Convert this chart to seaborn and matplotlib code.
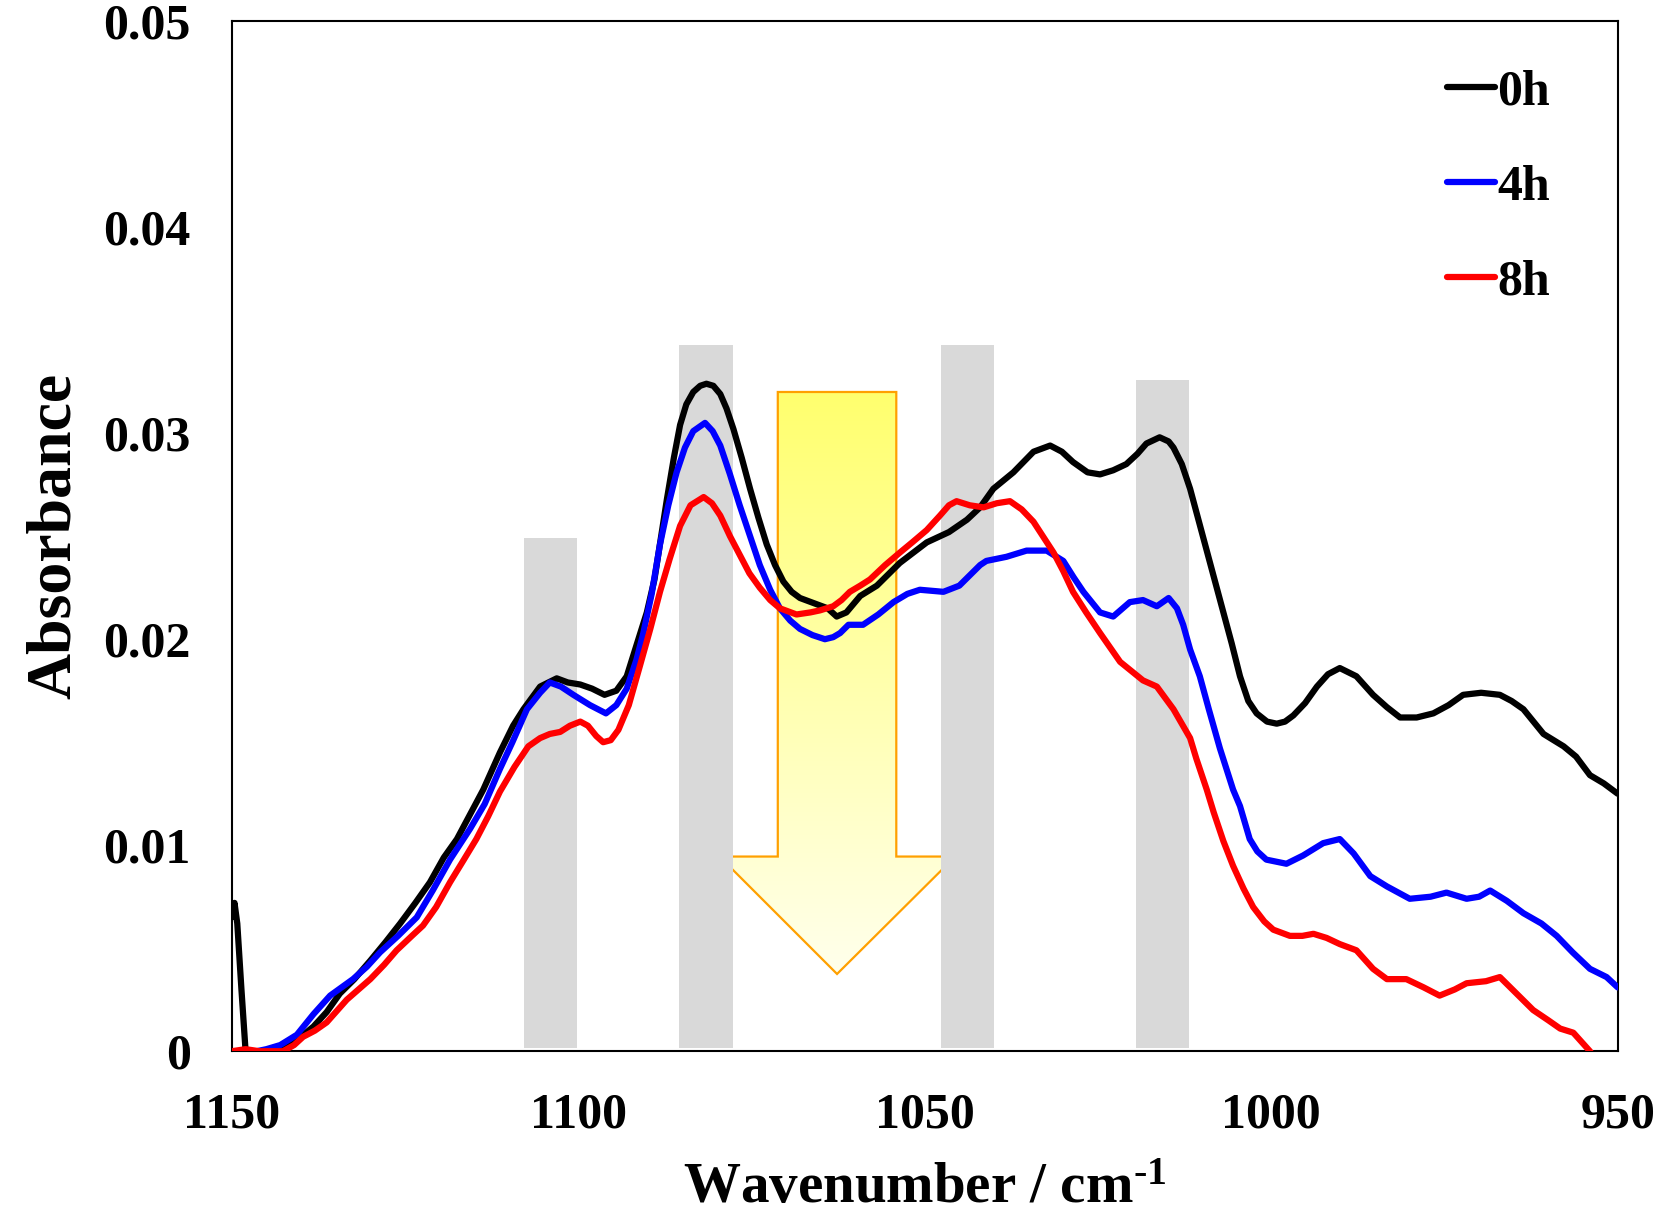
import numpy as np
import pandas as pd
import matplotlib
matplotlib.use('Agg')
import matplotlib.pyplot as plt
from matplotlib.patches import Polygon
import seaborn as sns

# spectra (wavenumber in cm-1, absorbance in units of 1e-3)
wn_0h = [1150.0, 1149.6, 1149.2, 1148.6, 1148.0, 1147.2, 1146.2, 1145.0, 1143.0, 1141.6,
         1140.0, 1138.2, 1136.3, 1134.4, 1132.3, 1130.0, 1127.8, 1125.7, 1123.5, 1121.4,
         1119.4, 1117.5, 1115.6, 1113.7, 1111.3, 1109.4, 1107.9, 1105.5, 1103.1, 1101.5,
         1099.7, 1098.0, 1096.2, 1094.5, 1093.0, 1091.6, 1090.1, 1089.0, 1087.2, 1086.2,
         1085.3, 1084.4, 1083.4, 1082.4, 1081.5, 1080.5, 1079.5, 1078.6, 1077.6, 1076.4,
         1075.2, 1074.0, 1072.8, 1071.6, 1070.4, 1069.2, 1068.0, 1065.6, 1064.0, 1062.7,
         1061.3, 1059.3, 1056.9, 1053.6, 1049.7, 1046.5, 1043.9, 1042.0, 1040.1, 1037.2,
         1034.3, 1031.9, 1030.2, 1028.6, 1026.5, 1024.7, 1022.8, 1020.9, 1019.3, 1018.0,
         1016.1, 1014.8, 1014.1, 1012.9, 1011.7, 1010.5, 1009.3, 1008.1, 1006.9, 1005.7,
         1004.5, 1003.3, 1002.1, 1000.6, 999.2, 998.0, 996.8, 995.1, 993.4, 991.8,
         990.1, 987.7, 985.3, 983.3, 981.4, 979.0, 976.6, 974.4, 972.3, 969.7,
         967.0, 965.3, 963.6, 960.7, 957.8, 956.0, 954.0, 952.0, 950.0]
abs_0h = [6.5, 7.2, 6.2, 3.0, 0.0, -0.6, -0.3, 0.0, 0.1, 0.3,
          0.7, 1.2, 1.9, 2.8, 3.5, 4.4, 5.3, 6.2, 7.2, 8.2,
          9.4, 10.3, 11.5, 12.7, 14.5, 15.8, 16.6, 17.7, 18.1, 17.9,
          17.8, 17.6, 17.3, 17.5, 18.2, 19.7, 21.3, 22.9, 26.8, 28.8,
          30.4, 31.4, 32.0, 32.3, 32.4, 32.3, 31.9, 31.2, 30.2, 28.8,
          27.3, 25.9, 24.6, 23.6, 22.8, 22.3, 22.0, 21.7, 21.5, 21.1,
          21.3, 22.1, 22.6, 23.7, 24.7, 25.2, 25.8, 26.4, 27.3, 28.1,
          29.1, 29.4, 29.1, 28.6, 28.1, 28.0, 28.2, 28.5, 29.0, 29.5,
          29.8, 29.6, 29.3, 28.5, 27.3, 25.8, 24.3, 22.8, 21.3, 19.8,
          18.2, 17.0, 16.4, 16.0, 15.9, 16.0, 16.3, 16.9, 17.7, 18.3,
          18.6, 18.2, 17.3, 16.7, 16.2, 16.2, 16.4, 16.8, 17.3, 17.4,
          17.3, 17.0, 16.6, 15.4, 14.8, 14.3, 13.4, 13.0, 12.5]

wn_4h = [1146.4, 1145.0, 1143.0, 1140.6, 1138.2, 1135.8, 1132.5, 1130.5, 1128.6, 1126.0,
         1123.3, 1121.0, 1118.5, 1115.6, 1113.5, 1111.3, 1109.5, 1107.4, 1105.5, 1104.1,
         1102.5, 1100.7, 1098.3, 1096.0, 1094.5, 1093.0, 1091.6, 1090.6, 1089.4, 1088.2,
         1087.0, 1085.8, 1084.6, 1083.4, 1081.7, 1080.6, 1079.5, 1078.1, 1076.7, 1075.2,
         1073.8, 1072.3, 1070.9, 1069.4, 1068.0, 1066.2, 1064.4, 1063.2, 1062.2, 1061.0,
         1058.9, 1056.7, 1054.5, 1052.5, 1050.7, 1047.3, 1045.0, 1042.0, 1041.1, 1038.2,
         1035.3, 1032.4, 1030.0, 1028.5, 1027.1, 1024.7, 1022.8, 1020.4, 1018.5, 1016.5,
         1014.8, 1013.6, 1012.7, 1011.7, 1010.3, 1009.0, 1007.4, 1005.5, 1004.5, 1003.1,
         1002.0, 1000.7, 997.8, 995.4, 992.5, 990.1, 988.1, 985.7, 983.3, 980.0,
         977.0, 974.7, 971.8, 970.0, 968.4, 966.0, 963.6, 961.0, 958.8, 956.5,
         954.0, 951.6, 950.0]
abs_4h = [0.0, 0.1, 0.3, 0.8, 1.8, 2.7, 3.5, 4.1, 4.8, 5.6,
          6.5, 7.8, 9.3, 10.8, 12.0, 13.7, 15.0, 16.6, 17.4, 17.9,
          17.7, 17.3, 16.8, 16.4, 16.8, 17.6, 19.0, 20.3, 22.2, 24.6,
          26.5, 28.1, 29.3, 30.1, 30.5, 30.1, 29.4, 28.0, 26.5, 25.0,
          23.6, 22.4, 21.5, 20.9, 20.5, 20.2, 20.0, 20.1, 20.3, 20.7,
          20.7, 21.2, 21.8, 22.2, 22.4, 22.3, 22.6, 23.6, 23.8, 24.0,
          24.3, 24.3, 23.8, 23.0, 22.3, 21.3, 21.1, 21.8, 21.9, 21.6,
          22.0, 21.5, 20.7, 19.5, 18.2, 16.6, 14.7, 12.7, 11.9, 10.3,
          9.7, 9.3, 9.1, 9.5, 10.1, 10.3, 9.6, 8.5, 8.0, 7.4,
          7.5, 7.7, 7.4, 7.5, 7.8, 7.3, 6.7, 6.2, 5.6, 4.8,
          4.0, 3.6, 3.1]

wn_8h = [1150.0, 1148.0, 1146.0, 1142.6, 1141.0, 1139.7, 1138.0, 1136.3, 1133.4, 1130.0,
         1128.0, 1126.2, 1124.0, 1122.4, 1120.5, 1118.5, 1116.5, 1114.7, 1113.0, 1111.3,
         1109.2, 1107.2, 1105.5, 1104.1, 1102.6, 1101.2, 1099.7, 1098.6, 1097.4, 1096.4,
         1095.3, 1094.2, 1092.7, 1091.1, 1089.6, 1088.2, 1086.8, 1085.3, 1083.8, 1081.9,
         1080.7, 1079.5, 1078.1, 1076.7, 1075.3, 1073.8, 1072.3, 1070.9, 1068.5, 1066.5,
         1065.1, 1063.2, 1062.0, 1060.8, 1059.3, 1057.9, 1055.7, 1053.6, 1051.8, 1049.7,
         1047.8, 1046.5, 1045.4, 1043.5, 1041.5, 1039.6, 1037.7, 1036.0, 1034.3, 1031.4,
         1030.0, 1028.6, 1026.7, 1024.7, 1021.8, 1018.5, 1016.5, 1014.1, 1011.7, 1010.8,
         1009.3, 1008.3, 1006.9, 1005.5, 1004.0, 1002.6, 1001.0, 999.7, 997.3, 995.5,
         993.9, 992.0, 990.1, 987.7, 985.3, 983.3, 980.5, 978.0, 975.7, 973.5,
         971.8, 969.0, 967.0, 964.6, 962.2, 960.0, 958.3, 956.4, 954.0, 952.0]
abs_8h = [0.0, 0.1, 0.0, 0.0, 0.3, 0.7, 1.0, 1.4, 2.5, 3.5,
          4.2, 4.9, 5.6, 6.1, 7.0, 8.2, 9.3, 10.3, 11.4, 12.6,
          13.8, 14.8, 15.2, 15.4, 15.5, 15.8, 16.0, 15.8, 15.3, 15.0,
          15.1, 15.6, 16.8, 18.7, 20.5, 22.3, 23.9, 25.5, 26.5, 26.9,
          26.6, 26.0, 25.0, 24.1, 23.2, 22.5, 21.9, 21.5, 21.2, 21.3,
          21.4, 21.6, 21.9, 22.3, 22.6, 22.9, 23.6, 24.2, 24.7, 25.3,
          26.0, 26.5, 26.7, 26.5, 26.4, 26.6, 26.7, 26.3, 25.7, 24.2,
          23.3, 22.3, 21.3, 20.3, 18.9, 18.0, 17.7, 16.6, 15.2, 14.2,
          12.7, 11.6, 10.2, 9.0, 7.9, 7.0, 6.3, 5.9, 5.6, 5.6,
          5.7, 5.5, 5.2, 4.9, 4.0, 3.5, 3.5, 3.1, 2.7, 3.0,
          3.3, 3.4, 3.6, 2.8, 2.0, 1.5, 1.1, 0.9, 0.0, -1.0]

series_labels = ['0h', '4h', '8h']
series_colors = ['#000000', '#0000FF', '#FF0000']

# highlighted band regions (cm-1) and their heights
bands = [(1107.8, 1100.2, 0.0249), (1085.4, 1077.7, 0.0343),
         (1047.6, 1040.0, 0.0343), (1019.5, 1011.9, 0.0326)]

x_ticks = [1150, 1100, 1050, 1000, 950]
y_ticks = [0, 0.01, 0.02, 0.03, 0.04, 0.05]

frames = []
for lab, w, a in zip(series_labels, [wn_0h, wn_4h, wn_8h], [abs_0h, abs_4h, abs_8h]):
    frames.append(pd.DataFrame({'wn': w, 'A': np.array(a) / 1000.0, 'time': lab}))
df = pd.concat(frames, ignore_index=True)

sns.set_style('white')
plt.rcParams['font.family'] = ['Liberation Serif', 'DejaVu Serif']
plt.rcParams['font.weight'] = 'bold'
plt.rcParams['text.color'] = 'black'
plt.rcParams['axes.labelcolor'] = 'black'
plt.rcParams['mathtext.fontset'] = 'custom'
plt.rcParams['mathtext.rm'] = 'Liberation Serif:bold'
plt.rcParams['mathtext.default'] = 'rm'

fig = plt.figure(figsize=(16.6, 12.16), dpi=100)
ax = fig.add_axes([0.1396, 0.1355, 0.8349, 0.8471])

# big yellow gradient arrow (clipped image)
stem_l, stem_r, top, neck, head_l, head_r, tip_x, tip_y = 1071.2, 1054.1, 0.0320, 0.00945, 1079.6, 1045.6, 1062.65, 0.00375
arrow = Polygon([(stem_l, top), (stem_r, top), (stem_r, neck), (head_r, neck),
                 (tip_x, tip_y), (head_l, neck), (stem_l, neck)],
                closed=True, facecolor='none', edgecolor='#FFA000', lw=1.6, zorder=1.5)
ax.add_patch(arrow)
c_top = np.array([255, 255, 110]) / 255
c_bot = np.array([255, 255, 236]) / 255
t = np.linspace(0, 1, 256)[:, None, None]
grad = c_bot + (c_top - c_bot) * t
im = ax.imshow(grad, extent=(head_r, head_l, tip_y, top), origin='lower',
               aspect='auto', zorder=1, interpolation='bilinear')
im.set_clip_path(arrow)

for x0, x1, h in bands:
    ax.axvspan(x1, x0, ymin=0.003, ymax=h / 0.05, color='#D9D9D9', lw=0, zorder=2)

sns.lineplot(data=df, x='wn', y='A', hue='time', palette=dict(zip(series_labels, series_colors)),
             sort=False, estimator=None, linewidth=4.5, ax=ax, zorder=3)

ax.set_xlim(1150, 950)
ax.set_ylim(0, 0.05)
ax.set_xticks(x_ticks)
ax.set_yticks(y_ticks)
ax.set_xticklabels([str(v) for v in x_ticks])
ax.set_yticklabels(['0' if v == 0 else f'{v:.2f}' for v in y_ticks])
ax.tick_params(axis='both', direction='in', length=10, width=1.5, labelsize=36,
               top=False, right=False, color='black', labelcolor='black')
ax.tick_params(axis='y', pad=29.5)
ax.tick_params(axis='x', pad=30)
for s in ax.spines.values():
    s.set_linewidth(1.5)
    s.set_color('black')

ax.set_xlabel(r'Wavenumber / cm$^{\text{-}1}$', fontsize=41, fontweight='bold', labelpad=17)
ax.set_ylabel('Absorbance', fontsize=46, fontweight='bold', labelpad=14)

handles, labels = ax.get_legend_handles_labels()
leg = ax.legend(handles, labels, loc='upper right', bbox_to_anchor=(0.951, 0.953),
                frameon=False, fontsize=36, handlelength=0.95, handletextpad=0.05,
                labelspacing=0.98, borderpad=0, borderaxespad=0)
for ln in leg.get_lines():
    ln.set_linewidth(4.5)

fig.savefig('out.png', dpi=100)
